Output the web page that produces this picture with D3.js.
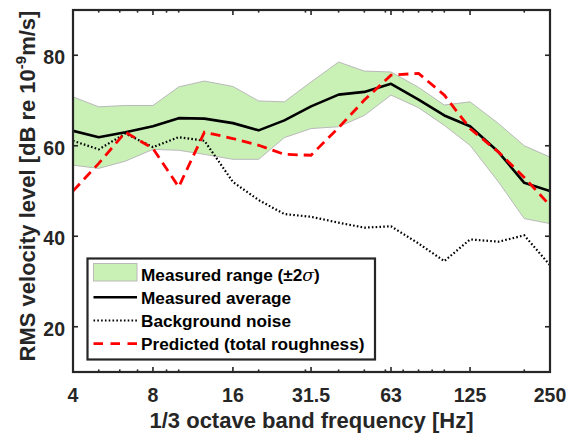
<!DOCTYPE html>
<html>
<head>
<meta charset="utf-8">
<script src="https://cdn.jsdelivr.net/npm/d3@7"></script>
<style>
  html, body { margin: 0; padding: 0; background: #fff; }
  svg { display: block; font-family: "Liberation Sans", Arial, sans-serif; font-weight: bold; }
</style>
</head>
<body>
<svg id="chart" width="566" height="439"></svg>
<script>
// 1/3 octave band centre frequencies [Hz]
const freqs = [4, 5, 6.3, 8, 10, 12.5, 16, 20, 25, 31.5, 40, 50, 63, 80, 100, 125, 160, 200, 250];
// Measured range (+/- 2 sigma), upper and lower bounds [dB]
const rangeUpper = [70.8, 68.6, 68.9, 68.9, 73.0, 74.3, 73.1, 69.9, 69.7, 74.1, 78.5, 76.5, 76.3, 72.9, 69.0, 69.7, 64.9, 60.0, 57.5];
const rangeLower = [55.7, 55.0, 56.6, 59.2, 59.0, 58.1, 57.0, 57.0, 61.8, 63.8, 64.2, 66.7, 71.2, 68.4, 64.5, 60.1, 52.0, 43.9, 42.8];
// Measured average [dB]
const measuredAvg = [63.3, 61.9, 63.0, 64.3, 66.1, 66.0, 65.0, 63.4, 65.6, 68.7, 71.3, 71.9, 73.7, 70.2, 66.7, 64.3, 58.6, 51.8, 50.0];
// Background noise [dB]
const backgroundNoise = [61.1, 59.2, 62.7, 59.7, 61.9, 61.1, 52.0, 48.0, 44.9, 44.3, 43.0, 41.9, 42.2, 38.4, 34.5, 39.3, 38.8, 40.2, 33.6];
// Predicted, total roughness [dB]
const predicted = [50.0, 56.1, 63.0, 59.4, 50.9, 63.0, 61.6, 60.1, 58.1, 57.9, 64.0, 70.1, 75.6, 76.0, 71.2, 63.8, 58.6, 53.0, 46.8];

// Axis ticks
const xMajorTicks = [4, 8, 16, 31.5, 63, 125, 250];
const xTickLabels = ["4", "8", "16", "31.5", "63", "125", "250"];
const xMinorTicks = [5, 6, 7, 9, 10, 20, 30, 40, 50, 60, 70, 80, 90, 100, 200];
const yTicks = [20, 40, 60, 80];

const legendLabels = ["Measured range (\u00B12", "Measured average", "Background noise", "Predicted (total roughness)"];

const axisColor = "#262626";
const fillColor = "#c9f1b6";

const svg = d3.select("#chart");
const plot = { left: 73, right: 550, top: 10, bottom: 372 };

const x = d3.scaleLog().domain([4, 250]).range([plot.left, plot.right]);
const y = d3.scaleLinear().domain([10, 90]).range([plot.bottom, plot.top]);

svg.append("defs").append("clipPath").attr("id", "plotClip")
  .append("rect")
  .attr("x", plot.left).attr("y", plot.top)
  .attr("width", plot.right - plot.left).attr("height", plot.bottom - plot.top);

const g = svg.append("g").attr("clip-path", "url(#plotClip)");

// Measured range band
const area = d3.area()
  .x((d, i) => x(freqs[i]))
  .y0((d, i) => y(rangeLower[i]))
  .y1((d, i) => y(rangeUpper[i]));
g.append("path").datum(rangeUpper)
  .attr("d", area)
  .attr("fill", fillColor)
  .attr("stroke", "#b9b9b9")
  .attr("stroke-width", 1);

const line = d3.line().x((d, i) => x(freqs[i])).y(d => y(d));

g.append("path").datum(measuredAvg)
  .attr("d", line).attr("fill", "none")
  .attr("stroke", "#000").attr("stroke-width", 2.6)
  .attr("stroke-linejoin", "round");

g.append("path").datum(backgroundNoise)
  .attr("d", line).attr("fill", "none")
  .attr("stroke", "#000").attr("stroke-width", 2.2)
  .attr("stroke-dasharray", "1.6 2.2");

g.append("path").datum(predicted)
  .attr("d", line).attr("fill", "none")
  .attr("stroke", "#ff0000").attr("stroke-width", 2.8)
  .attr("stroke-dasharray", "10 6");

// Axes (box with inward ticks on all sides)
const axes = svg.append("g");
const majorLen = 5, minorLen = 2.6, yLen = 5;

function hTicks(vals, len) {
  vals.forEach(v => {
    const px = x(v);
    axes.append("line").attr("x1", px).attr("x2", px)
      .attr("y1", plot.bottom).attr("y2", plot.bottom - len)
      .attr("stroke", axisColor).attr("stroke-width", 1.6);
    axes.append("line").attr("x1", px).attr("x2", px)
      .attr("y1", plot.top).attr("y2", plot.top + len)
      .attr("stroke", axisColor).attr("stroke-width", 1.6);
  });
}
hTicks(xMinorTicks, minorLen);
hTicks(xMajorTicks, majorLen);

yTicks.forEach(v => {
  const py = y(v);
  axes.append("line").attr("x1", plot.left).attr("x2", plot.left + yLen)
    .attr("y1", py).attr("y2", py).attr("stroke", axisColor).attr("stroke-width", 1.6);
  axes.append("line").attr("x1", plot.right).attr("x2", plot.right - yLen)
    .attr("y1", py).attr("y2", py).attr("stroke", axisColor).attr("stroke-width", 1.6);
});

axes.append("rect")
  .attr("x", plot.left).attr("y", plot.top)
  .attr("width", plot.right - plot.left).attr("height", plot.bottom - plot.top)
  .attr("fill", "none").attr("stroke", axisColor).attr("stroke-width", 2.2);

// Tick labels
axes.selectAll(".xlab").data(xMajorTicks).enter().append("text")
  .attr("x", d => x(d)).attr("y", 402)
  .attr("text-anchor", "middle").attr("font-size", 19.5)
  .attr("fill", axisColor)
  .text((d, i) => xTickLabels[i]);

axes.selectAll(".ylab").data(yTicks).enter().append("text")
  .attr("x", 65).attr("y", d => y(d) + 9)
  .attr("text-anchor", "end").attr("font-size", 19.5)
  .attr("fill", axisColor)
  .text(d => d);

// Axis titles
svg.append("text")
  .attr("x", (plot.left + plot.right) / 2).attr("y", 428)
  .attr("text-anchor", "middle").attr("font-size", 22)
  .attr("fill", axisColor)
  .text("1/3 octave band frequency [Hz]");

const yTitle = svg.append("text")
  .attr("transform", "translate(35,186) rotate(-90)")
  .attr("text-anchor", "middle").attr("font-size", 22)
  .attr("fill", axisColor);
yTitle.append("tspan").text("RMS velocity level [dB re 10");
yTitle.append("tspan").attr("dy", -9).attr("font-size", 15).text("-9");
yTitle.append("tspan").attr("dy", 9).text("m/s]");

// Legend
const lg = svg.append("g");
lg.append("rect")
  .attr("x", 87.5).attr("y", 258.5).attr("width", 287.5).attr("height", 101)
  .attr("fill", "#fff").attr("stroke", axisColor).attr("stroke-width", 2.2);

const rowBase = [280.6, 303.8, 327.0, 350.2];
const symX0 = 93.5, symX1 = 137, textX = 141;

lg.append("rect").attr("x", symX0).attr("y", 263.5)
  .attr("width", symX1 - symX0).attr("height", 17.5)
  .attr("fill", fillColor).attr("stroke", "#b9b9b9").attr("stroke-width", 1);

lg.append("line").attr("x1", symX0).attr("x2", symX1)
  .attr("y1", rowBase[1] - 6.5).attr("y2", rowBase[1] - 6.5)
  .attr("stroke", "#000").attr("stroke-width", 2.6);
lg.append("line").attr("x1", symX0).attr("x2", symX1)
  .attr("y1", rowBase[2] - 6.5).attr("y2", rowBase[2] - 6.5)
  .attr("stroke", "#000").attr("stroke-width", 2.2).attr("stroke-dasharray", "1.6 2.2");
lg.append("line").attr("x1", symX0).attr("x2", symX1)
  .attr("y1", rowBase[3] - 6.5).attr("y2", rowBase[3] - 6.5)
  .attr("stroke", "#ff0000").attr("stroke-width", 2.8).attr("stroke-dasharray", "9.5 7.5");

legendLabels.forEach((t, i) => {
  const txt = lg.append("text").attr("x", textX).attr("y", rowBase[i])
    .attr("font-size", 17.2).attr("fill", "#000");
  txt.append("tspan").text(t);
  if (i === 0) {
    txt.append("tspan").attr("font-family", "'DejaVu Serif', 'Liberation Serif', serif")
      .attr("font-style", "italic").attr("font-weight", "normal").text("\u03C3");
    txt.append("tspan").text(")");
  }
});
</script>
</body>
</html>
